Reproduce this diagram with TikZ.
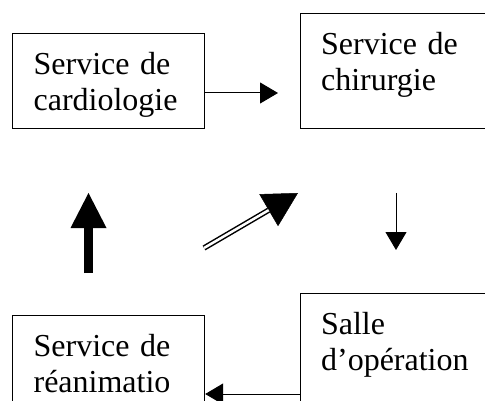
\documentclass[tikz,border=0pt]{standalone}
\usepackage{fontspec}
\setmainfont{Liberation Serif}
\usetikzlibrary{arrows.meta}

\begin{document}
\begin{tikzpicture}[x=1pt,y=-1pt,
  box/.style={draw,line width=1.2pt,anchor=north west,text width=150pt,
    inner xsep=21pt,inner ysep=0pt,text height=41pt,align=left,
    font=\fontsize{32}{36}\selectfont},
  arr/.style={line width=1pt,-{Triangle[length=18pt,width=21pt]}}]
  \clip (0,0) rectangle (485,401);
  \node[box,text depth=54pt] (cardio) at (12,33) {Service de\\cardiologie};
  \node[box,text depth=74pt,text width=170pt] (chir) at (299.5,13) {Service de\\chirurgie};
  \node[box,text depth=100pt] (reanim) at (12,315) {Service de\\réanimatio};
  \node[box,text depth=120pt,text width=170pt] (op) at (299.5,293) {Salle\\d’opération};
  \coordinate (tipA) at (278,93);
  \coordinate (upA) at (88.5,273);
  \coordinate (upB) at (88.5,193);
  \coordinate (dgA) at (204,248);
  \coordinate (dgB) at (298,193);
  \coordinate (dnA) at (396,193);
  \coordinate (dnB) at (396,250);
  \coordinate (lowy) at (0,394);
  \draw[arr] (cardio.east |- tipA) -- (tipA);
  \draw[line width=8.5pt,-{Triangle[length=35pt,width=36pt,line width=0pt]}] (upA) -- (upB);
  % double arrow: tip first, then the double shaft on top
  \draw[line width=0.5pt,-{Triangle[length=34pt,width=37pt]}] (dgA) -- (dgB);
  \draw[double,line width=1.5pt,double distance=2.5pt,shorten >=34pt] (dgA) -- (dgB);
  \draw[arr] (dnA) -- (dnB);
  \draw[arr] (op.west |- lowy) -- (reanim.east |- lowy);
\end{tikzpicture}
\end{document}
